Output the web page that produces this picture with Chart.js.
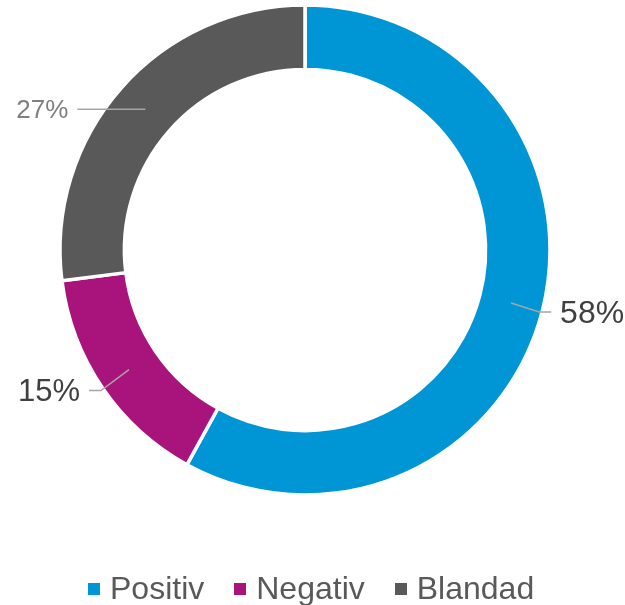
<!DOCTYPE html>
<html>
<head>
<meta charset="utf-8">
<script src="https://cdn.jsdelivr.net/npm/chart.js@4"></script>
<style>
  html, body { margin: 0; padding: 0; background: #fff; overflow: hidden; }
  #wrap { position: relative; width: 625px; height: 605px; }
  #legend {
    position: absolute; left: 88px; top: 570px;
    display: flex; align-items: center;
    font-family: "Liberation Sans", Arial, sans-serif; font-size: 32px; color: #595959;
  }
  #legend .item { display: flex; align-items: center; margin-right: 30px; }
  #legend .box { width: 12px; height: 12px; margin-right: 10px; }
</style>
</head>
<body>
<div id="wrap">
  <canvas id="chart" width="625" height="605"></canvas>
  <div id="legend"></div>
</div>
<script>
// shares in percent
var labels = ['Positiv', 'Negativ', 'Blandad'];
var values = [58, 15, 27];
var colors = ['#0096d6', '#a8137c', '#595959'];

// value labels: leader line from the middle of the ring, then text
var labelStyle = [
  { path: [[28, 9], [40, 9]], size: 32, color: '#404040', align: 'left', gap: 9 },
  { path: [[-28, 21], [-40, 21]], size: 31, color: '#404040', align: 'right', gap: 9 },
  { path: [[-68, 0]], size: 26, color: '#7f7f7f', align: 'right', gap: 9 }
];

var valueLabels = {
  id: 'valueLabels',
  afterDatasetsDraw: function (chart) {
    var ctx = chart.ctx;
    var arcs = chart.getDatasetMeta(0).data;
    ctx.save();
    arcs.forEach(function (arc, i) {
      var p = arc.getProps(['x', 'y', 'startAngle', 'endAngle', 'innerRadius', 'outerRadius'], true);
      var mid = (p.startAngle + p.endAngle) / 2;
      var r = (p.innerRadius + p.outerRadius) / 2;
      var sx = p.x + Math.cos(mid) * r;
      var sy = p.y + Math.sin(mid) * r;
      var st = labelStyle[i];
      ctx.strokeStyle = '#a6a6a6';
      ctx.lineWidth = 1.5;
      ctx.beginPath();
      ctx.moveTo(sx, sy);
      var ex = sx, ey = sy;
      st.path.forEach(function (pt) {
        ex = sx + pt[0];
        ey = sy + pt[1];
        ctx.lineTo(ex, ey);
      });
      ctx.stroke();
      ctx.font = st.size + 'px "Liberation Sans", Arial, sans-serif';
      ctx.fillStyle = st.color;
      ctx.textBaseline = 'middle';
      ctx.textAlign = st.align;
      var tx = st.align === 'left' ? ex + st.gap : ex - st.gap;
      ctx.fillText(values[i] + '%', tx, ey + 2);
    });
    ctx.restore();
  }
};

var chart = new Chart(document.getElementById('chart'), {
  type: 'doughnut',
  data: {
    labels: labels,
    datasets: [{
      data: values,
      backgroundColor: colors,
      borderColor: '#ffffff',
      borderWidth: 3.5,
      hoverOffset: 0
    }]
  },
  options: {
    responsive: false,
    animation: false,
    radius: 245,
    cutout: 183,
    layout: { padding: { left: 0, right: 15, top: 0, bottom: 105 } },
    plugins: {
      legend: { display: false },
      tooltip: { enabled: false }
    }
  },
  plugins: [valueLabels]
});

// legend under the ring
var legend = document.getElementById('legend');
labels.forEach(function (name, i) {
  var item = document.createElement('div');
  item.className = 'item';
  item.innerHTML = '<span class="box" style="background:' + colors[i] + '"></span><span>' + name + '</span>';
  legend.appendChild(item);
});
</script>
</body>
</html>
